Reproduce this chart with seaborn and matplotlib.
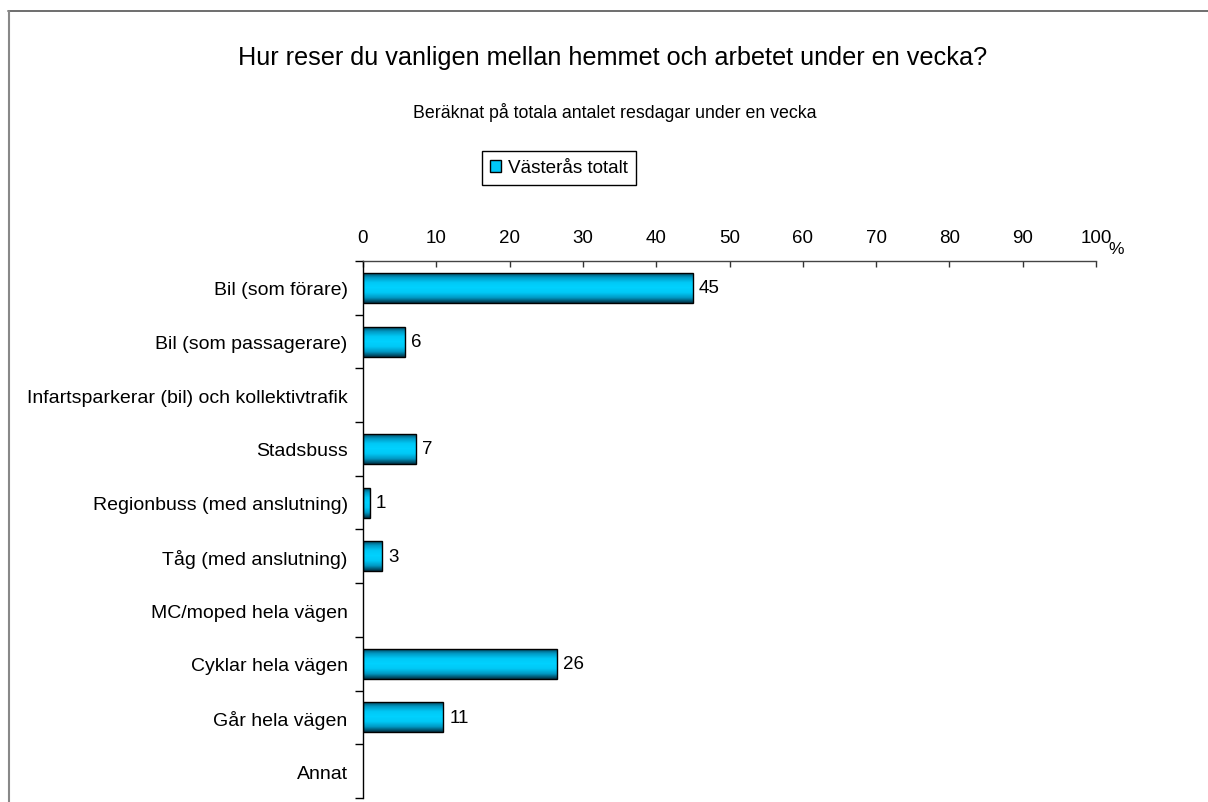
import numpy as np
import pandas as pd
import matplotlib
matplotlib.use("Agg")
import matplotlib.pyplot as plt
from matplotlib.patches import Patch
from matplotlib.colors import LinearSegmentedColormap
import seaborn as sns

categories = ["Bil (som förare)", "Bil (som passagerare)",
              "Infartsparkerar (bil) och kollektivtrafik", "Stadsbuss",
              "Regionbuss (med anslutning)", "Tåg (med anslutning)",
              "MC/moped hela vägen", "Cyklar hela vägen", "Går hela vägen", "Annat"]
values = [45.0, 5.7, 0.0, 7.2, 0.9, 2.6, 0.0, 26.4, 10.9, 0.0]
series_name = "Västerås totalt"
x_ticks = [0, 10, 20, 30, 40, 50, 60, 70, 80, 90, 100]

title = "Hur reser du vanligen mellan hemmet och arbetet under en vecka?"
subtitle = "Beräknat på totala antalet resdagar under en vecka"

sns.set_style("white")
plt.rcParams["font.family"] = ["Liberation Sans", "DejaVu Sans"]
plt.rcParams["text.color"] = "black"

W, H = 1208, 803
fig = plt.figure(figsize=(W / 100, H / 100), dpi=100)
ax = fig.add_axes([363 / W, 1 - 799 / H, (1096 - 363) / W, (799 - 262) / H])

df = pd.DataFrame({"cat": categories, "val": values})
sns.barplot(data=df, x="val", y="cat", orient="h", color="#00C8F8",
            width=0.56, edgecolor="black", linewidth=1.0, ax=ax)

# gradient fill inside each bar
cmap = LinearSegmentedColormap.from_list(
    "bar", ["#00394d", "#0099c4", "#00c8f5", "#00d2ff", "#00c8f5", "#0099c4", "#003347"])
grad = np.linspace(0, 1, 64).reshape(-1, 1)
for p in ax.patches:
    w = p.get_width()
    if w <= 0:
        p.set_visible(False)
        continue
    x0, y0 = p.get_x(), p.get_y()
    h = p.get_height()
    p.set_facecolor("none")
    p.set_zorder(3)
    im = ax.imshow(grad, cmap=cmap, aspect="auto",
                   extent=(x0, x0 + w, y0 + h, y0), zorder=2, interpolation="bilinear")
    im.set_clip_path(p)

# value labels
for i, v in enumerate(values):
    if v > 0:
        ax.text(v + 0.85, i, f"{v:.0f}", va="center", ha="left", fontsize=13.5, color="black")

ax.set_xlim(0, 100)
ax.set_ylim(len(categories) - 0.5, -0.5)
ax.set_aspect("auto")
ax.set_xlabel("")
ax.set_ylabel("")

ax.xaxis.tick_top()
ax.set_xticks(x_ticks)
ax.set_xticklabels([str(t) for t in x_ticks], fontsize=13.5)
ax.tick_params(axis="x", top=True, bottom=False, direction="in", length=4,
               width=1, pad=10.5, colors="#333333", labelcolor="black")

ax.set_yticks(range(len(categories)))
ax.set_yticklabels(categories, fontsize=14)
ax.tick_params(axis="y", length=0, pad=11, labelcolor="black")
ax.set_yticks(np.arange(-0.5, len(categories), 1.0), minor=True)
ax.tick_params(axis="y", which="minor", left=True, length=6, width=1,
               direction="out", color="black")

for s in ["right", "bottom"]:
    ax.spines[s].set_visible(False)
ax.spines["top"].set_color("#444444")
ax.spines["top"].set_linewidth(1)
ax.spines["left"].set_color("black")
ax.spines["left"].set_linewidth(1)
ax.spines["top"].set_zorder(5)

fig.text(1116 / W, 1 - 249 / H, "%", fontsize=12.5, ha="center", va="center", color="black")

fig.text(613 / W, 1 - 58 / H, title, fontsize=18.2, ha="center", va="center", color="black")
fig.text(615 / W, 1 - 113 / H, subtitle, fontsize=12.8, ha="center", va="center", color="black")

leg = fig.legend(handles=[Patch(facecolor="#00C8F8", edgecolor="black", label=series_name)],
                 loc="center", bbox_to_anchor=(559 / W, 1 - 169 / H),
                 fontsize=13.6, frameon=True, fancybox=False, framealpha=1,
                 edgecolor="black", handlelength=0.6, handleheight=0.6,
                 handletextpad=0.35, borderpad=0.45, borderaxespad=0)
leg.get_frame().set_linewidth(1)
for t in leg.get_texts():
    t.set_color("black")

# outer chart frame
fig.add_artist(plt.Line2D([8 / W, 1.0], [1 - 12 / H, 1 - 12 / H], transform=fig.transFigure,
                          color="#555555", lw=1.2))
fig.add_artist(plt.Line2D([8.5 / W, 8.5 / W], [1 - 12 / H, 0], transform=fig.transFigure,
                          color="#888888", lw=1.5))

fig.savefig("out.png", dpi=100)
